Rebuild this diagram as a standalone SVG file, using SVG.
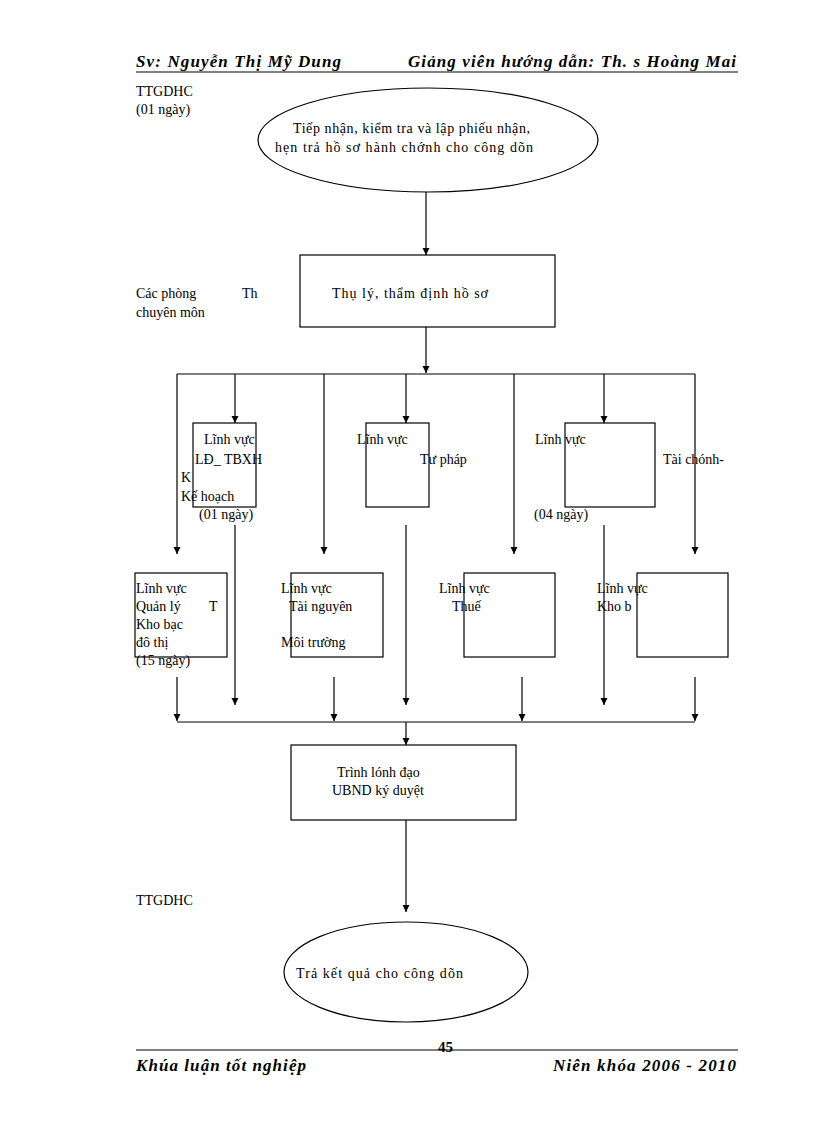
<svg xmlns="http://www.w3.org/2000/svg" width="816" height="1123" viewBox="0 0 816 1123">
<defs><marker id="a" viewBox="0 0 10 10" refX="10" refY="5" markerWidth="7" markerHeight="9" orient="auto" markerUnits="userSpaceOnUse"><path d="M0,0L10,5L0,10z" fill="#000"/></marker></defs>
<style>
text{font-family:"Liberation Serif",serif;font-size:14px;fill:#000}
.h{font-weight:bold;font-style:italic;font-size:17px}
.s{fill:none;stroke:#000;stroke-width:1.2}
.c line{stroke:#000;stroke-width:1.2}
.c .ar{marker-end:url(#a)}
</style>
<rect width="816" height="1123" fill="#fff"/>
<g id="header"><text class="h" x="136" y="67" textLength="205">Sv: Nguyễn Thị Mỹ Dung</text><text class="h" x="408" y="67" textLength="328">Giảng viên hướng dẫn: Th. s Hoàng Mai</text><line x1="136" y1="72" x2="738" y2="72" stroke="#000"/></g>
<g id="footer"><line x1="136" y1="1050" x2="738" y2="1050" stroke="#000"/><text x="438" y="1052" style="font-weight:bold;font-size:15px">45</text><text class="h" x="136" y="1071" textLength="170">Khúa luận tốt nghiệp</text><text class="h" x="553" y="1071" textLength="183">Niên khóa 2006 - 2010</text></g>
<g id="labels"><text x="136" y="96">TTGDHC</text><text x="136" y="114">(01 ngày)</text><text x="136" y="298">Các phòng</text><text x="242" y="298">Th</text><text x="136" y="317">chuyên  môn</text><text x="136" y="905">TTGDHC</text></g>
<g id="n1"><ellipse class="s" cx="428" cy="140" rx="170" ry="52"/><text x="293" y="133" textLength="237">Tiếp  nhận,  kiểm  tra và lập phiếu  nhận,</text><text x="275" y="152" textLength="258">hẹn trả hồ sơ hành chớnh  cho công dõn</text></g>
<g id="n2"><rect class="s" x="300" y="255" width="255" height="72"/><text x="332" y="298" textLength="156">Thụ lý,  thẩm định hồ sơ</text></g>
<g id="n3"><rect class="s" x="193" y="423" width="63" height="84"/><text x="204" y="444">Lĩnh  vực</text><text x="195" y="464">LĐ_  TBXH</text><text x="181" y="482">K</text><text x="181" y="501">Kế hoạch</text><text x="199" y="519">(01 ngày)</text></g>
<g id="n4"><rect class="s" x="366" y="423" width="63" height="84"/><text x="357" y="444">Lĩnh  vực</text><text x="420" y="464">Tư pháp</text></g>
<g id="n5"><rect class="s" x="565" y="423" width="90" height="84"/><text x="535" y="444">Lĩnh  vực</text><text x="663" y="464">Tài  chónh-</text><text x="534" y="519">(04 ngày)</text></g>
<g id="n6"><rect class="s" x="135" y="573" width="92" height="84"/><text x="136" y="593">Lĩnh  vực</text><text x="136" y="611">Quản lý</text><text x="209" y="611">T</text><text x="136" y="629">Kho bạc</text><text x="136" y="647">đô thị</text><text x="136" y="665">(15 ngày)</text></g>
<g id="n7"><rect class="s" x="291" y="573" width="92" height="84"/><text x="281" y="593">Lĩnh  vực</text><text x="289" y="611">Tài  nguyên</text><text x="281" y="647">Môi trường</text></g>
<g id="n8"><rect class="s" x="464" y="573" width="91" height="84"/><text x="439" y="593">Lĩnh  vực</text><text x="452" y="611">Thuế</text></g>
<g id="n9"><rect class="s" x="637" y="573" width="91" height="84"/><text x="597" y="593">Lĩnh  vực</text><text x="597" y="611">Kho b</text></g>
<g id="n10"><rect class="s" x="291" y="745" width="225" height="75"/><text x="337" y="777">Trình  lónh  đạo</text><text x="332" y="795">UBND ký duyệt</text></g>
<g id="n11"><ellipse class="s" cx="406" cy="972" rx="122" ry="50"/><text x="296" y="978" textLength="167">Trả kết quả cho công dõn</text></g>
<g class="c" id="connectors">
<line class="ar" x1="426" y1="192" x2="426" y2="255"/>
<line class="ar" x1="426" y1="327" x2="426" y2="373"/>
<line x1="177" y1="374" x2="695" y2="374"/>
<line class="ar" x1="235" y1="374" x2="235" y2="423"/>
<line class="ar" x1="406" y1="374" x2="406" y2="423"/>
<line class="ar" x1="604" y1="374" x2="604" y2="423"/>
<line class="ar" x1="177" y1="374" x2="177" y2="554"/>
<line class="ar" x1="324" y1="374" x2="324" y2="554"/>
<line class="ar" x1="514" y1="374" x2="514" y2="554"/>
<line class="ar" x1="695" y1="374" x2="695" y2="554"/>
<line class="ar" x1="235" y1="525" x2="235" y2="705"/>
<line class="ar" x1="406" y1="525" x2="406" y2="705"/>
<line class="ar" x1="604" y1="525" x2="604" y2="705"/>
<line class="ar" x1="177" y1="677" x2="177" y2="721"/>
<line class="ar" x1="334" y1="677" x2="334" y2="721"/>
<line class="ar" x1="522" y1="677" x2="522" y2="721"/>
<line class="ar" x1="695" y1="677" x2="695" y2="721"/>
<line x1="177" y1="722" x2="695" y2="722"/>
<line class="ar" x1="406" y1="722" x2="406" y2="745"/>
<line class="ar" x1="406" y1="820" x2="406" y2="912"/>
</g>
</svg>
